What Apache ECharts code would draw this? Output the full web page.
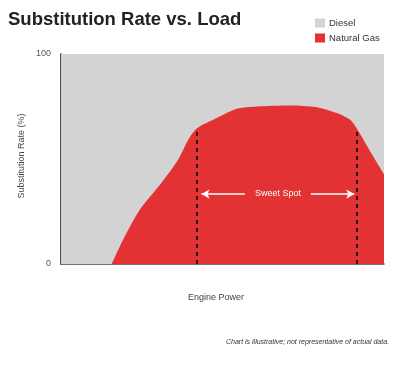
<!DOCTYPE html>
<html><head><meta charset="utf-8">
<script src="https://cdn.jsdelivr.net/npm/echarts@6/dist/echarts.min.js"></script>
<style>html,body{margin:0;padding:0;background:#fff}#c{width:393px;height:369px}</style>
</head><body><div id="c"></div>
<script>
var powerX = [15.7, 19.3, 24.5, 30.7, 36.3, 39.4, 42, 48.2, 54.4, 60.6, 70.9, 79.2, 85.4, 89.5, 91.5, 95.7, 100];
var gasRate = [0, 11.8, 26.1, 37.9, 49.8, 59.2, 64.5, 69.5, 73.9, 75, 75.5, 74.7, 71.9, 68.7, 64.8, 53.7, 42.7];
var dieselX = [0, 100];
var dieselRate = [100, 100];
var sweetStart = 42, sweetEnd = 91.5, sweetStartTop = 64.5, sweetEndTop = 64.8, arrowLevel = 33.3;
var yTicks = [0, 100];
var FONT = '"Liberation Sans", Arial, Helvetica, sans-serif';
var RED = '#e33234', GRAY = '#d3d3d3';

var chart = echarts.init(document.getElementById('c'), null, {renderer: 'canvas'});
chart.setOption({
  animation: false,
  title: {text: 'Substitution Rate vs. Load', left: 8, top: 10, padding: 0,
    textStyle: {fontFamily: FONT, fontSize: 18.5, fontWeight: 'bold', color: '#222'}},
  legend: {orient: 'vertical', left: 315, top: 18, padding: 0, itemWidth: 10, itemHeight: 9, itemGap: 5,
    icon: 'rect', data: ['Diesel', 'Natural Gas'],
    textStyle: {fontFamily: FONT, fontSize: 9.5, color: '#333', padding: [0, 0, 0, -1]}},
  grid: {left: 61, right: 9, top: 54, bottom: 105},
  xAxis: {type: 'value', min: 0, max: 100, axisLabel: {show: false}, axisTick: {show: false},
    splitLine: {show: false}, axisLine: {onZero: false, lineStyle: {color: '#444', width: 1.5}}},
  yAxis: {type: 'value', min: 0, max: 100, interval: 100, splitLine: {show: false},
    axisTick: {show: false}, axisLine: {show: true, lineStyle: {color: '#111', width: 1.5}},
    axisLabel: {fontFamily: FONT, fontSize: 9, color: '#555', margin: 10,
      formatter: function (v) { return yTicks.indexOf(v) >= 0 ? String(v) : ''; }}},
  graphic: [
    {type: 'text', x: 22, y: 156, rotation: Math.PI / 2, style: {text: 'Substitution Rate (%)', font: '9px ' + FONT, fill: '#444',
      textAlign: 'center', textVerticalAlign: 'middle'}},
    {type: 'text', x: 216, y: 298, style: {text: 'Engine Power', font: '9px ' + FONT, fill: '#444',
      textAlign: 'center', textVerticalAlign: 'middle'}},
    {type: 'text', x: 389, y: 342, style: {text: 'Chart is illustrative; not representative of actual data.',
      font: 'italic 7px ' + FONT, fill: '#333', textAlign: 'right', textVerticalAlign: 'middle'}}
  ],
  series: [
    {name: 'Diesel', type: 'line', data: dieselX.map(function (x, i) { return [x, dieselRate[i]]; }),
      symbol: 'none', lineStyle: {width: 0}, itemStyle: {color: GRAY}, areaStyle: {color: GRAY, opacity: 1}, z: 1},
    {name: 'Natural Gas', type: 'line', data: powerX.map(function (x, i) { return [x, gasRate[i]]; }),
      symbol: 'none', smooth: 0.25, lineStyle: {width: 0}, itemStyle: {color: RED},
      areaStyle: {color: RED, opacity: 1}, z: 2,
      markLine: {silent: true, animation: false, symbol: 'none',
        data: [
          [{coord: [sweetStart, 0], lineStyle: {type: [4, 4], color: '#2a1010', width: 2}},
           {coord: [sweetStart, sweetStartTop]}],
          [{coord: [sweetEnd, 0], lineStyle: {type: [4, 4], color: '#2a1010', width: 2}},
           {coord: [sweetEnd, sweetEndTop]}],
          [{coord: [sweetStart + 1.5, arrowLevel], symbol: 'arrow', symbolSize: [7, 8], lineStyle: {type: 'solid', color: '#fff', width: 1.5},
            label: {show: true, position: 'middle', formatter: 'Sweet Spot', color: '#fff', fontFamily: FONT, fontSize: 9,
              backgroundColor: RED, padding: [2, 10], distance: -6}},
           {coord: [sweetEnd - 0.7, arrowLevel], symbol: 'arrow', symbolSize: [7, 8]}]
        ]}}
  ]
});
</script></body></html>
